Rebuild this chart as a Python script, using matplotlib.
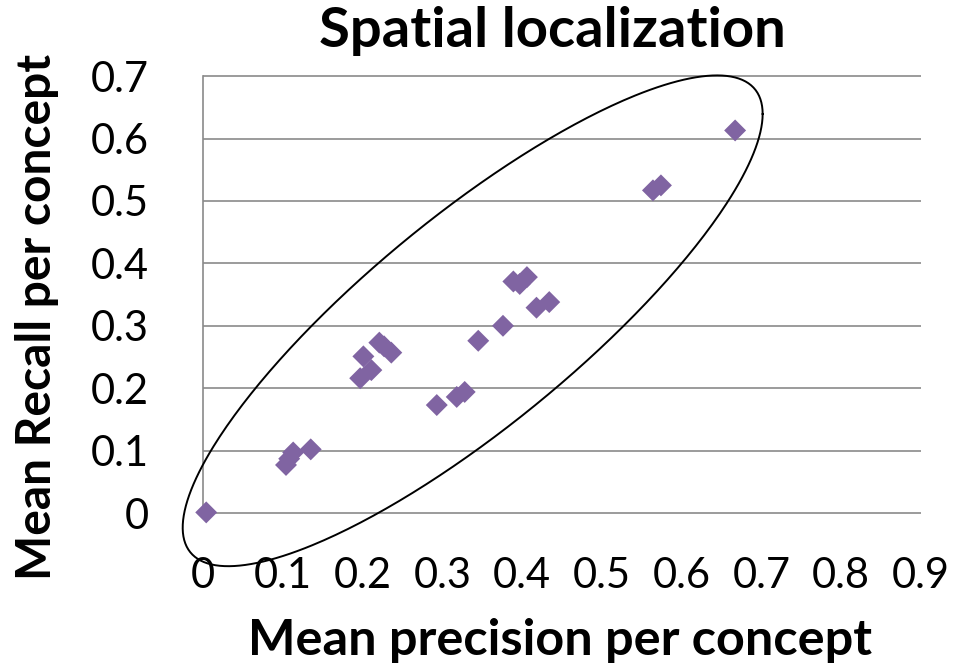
import numpy as np
import matplotlib.pyplot as plt

# Mean precision / recall per concept
precision = [0.004, 0.104, 0.108, 0.113, 0.135,
             0.197, 0.211, 0.201, 0.221, 0.227, 0.236,
             0.293, 0.318, 0.328, 0.345, 0.376,
             0.389, 0.397, 0.406, 0.418, 0.434,
             0.564, 0.574, 0.667]
recall = [0.001, 0.077, 0.087, 0.097, 0.102,
          0.216, 0.229, 0.251, 0.273, 0.267, 0.257,
          0.173, 0.186, 0.194, 0.276, 0.300,
          0.371, 0.367, 0.378, 0.329, 0.338,
          0.517, 0.525, 0.613]

x_ticks = [0, 0.1, 0.2, 0.3, 0.4, 0.5, 0.6, 0.7, 0.8, 0.9]
y_ticks = [0, 0.1, 0.2, 0.3, 0.4, 0.5, 0.6, 0.7]
x_labels = ['0', '0.1', '0.2', '0.3', '0.4', '0.5', '0.6', '0.7', '0.8', '0.9']
y_labels = ['0', '0.1', '0.2', '0.3', '0.4', '0.5', '0.6', '0.7']

# hand drawn ellipse around the points (centre and axis vectors, data units)
ell_center = (0.338, 0.308)
ell_u = (0.3635, 0.3314)
ell_v = (0.0, 0.2116)

plt.rcParams['font.family'] = ['Lato', 'DejaVu Sans']

fig = plt.figure(figsize=(9.55, 6.68), dpi=100)
ax = fig.add_axes([0.2126, 0.232, 0.7518, 0.654])

ax.set_xlim(0, 0.9)
ax.set_ylim(0, 0.7)

for s in ['top', 'right', 'bottom']:
    ax.spines[s].set_visible(False)
ax.spines['left'].set_color('#8a8a8a')
ax.spines['left'].set_linewidth(1.2)

ax.hlines(y_ticks, 0, 0.9, colors='#8a8a8a', linewidth=1.2, clip_on=False, zorder=1)

ax.scatter(precision, recall, marker='D', s=125, color='#8064a2', edgecolors='none',
           clip_on=False, zorder=3)

t = np.linspace(0, 2 * np.pi, 400)
ex = ell_center[0] + ell_u[0] * np.cos(t) + ell_v[0] * np.sin(t)
ey = ell_center[1] + ell_u[1] * np.cos(t) + ell_v[1] * np.sin(t)
ax.plot(ex, ey, color='black', linewidth=1.4, clip_on=False, zorder=4)

ax.set_xticks(x_ticks)
ax.set_xticklabels(x_labels)
ax.set_yticks(y_ticks)
ax.set_yticklabels(y_labels)
ax.tick_params(axis='both', length=0, labelsize=30, colors='black')
ax.tick_params(axis='x', pad=32)
ax.tick_params(axis='y', pad=39)

fig.text(552 / 955, 1 - 47 / 668, 'Spatial localization', ha='center', va='baseline',
         fontsize=40.5, fontweight='bold')
fig.text(560 / 955, 1 - 655 / 668, 'Mean precision per concept', ha='center', va='baseline',
         fontsize=36.3, fontweight='bold')
fig.text(51 / 955, 1 - 316.5 / 668, 'Mean Recall per concept', ha='center', va='baseline',
         rotation=90, rotation_mode='anchor', fontsize=34.5, fontweight='bold')

fig.savefig('out.png', dpi=100)
